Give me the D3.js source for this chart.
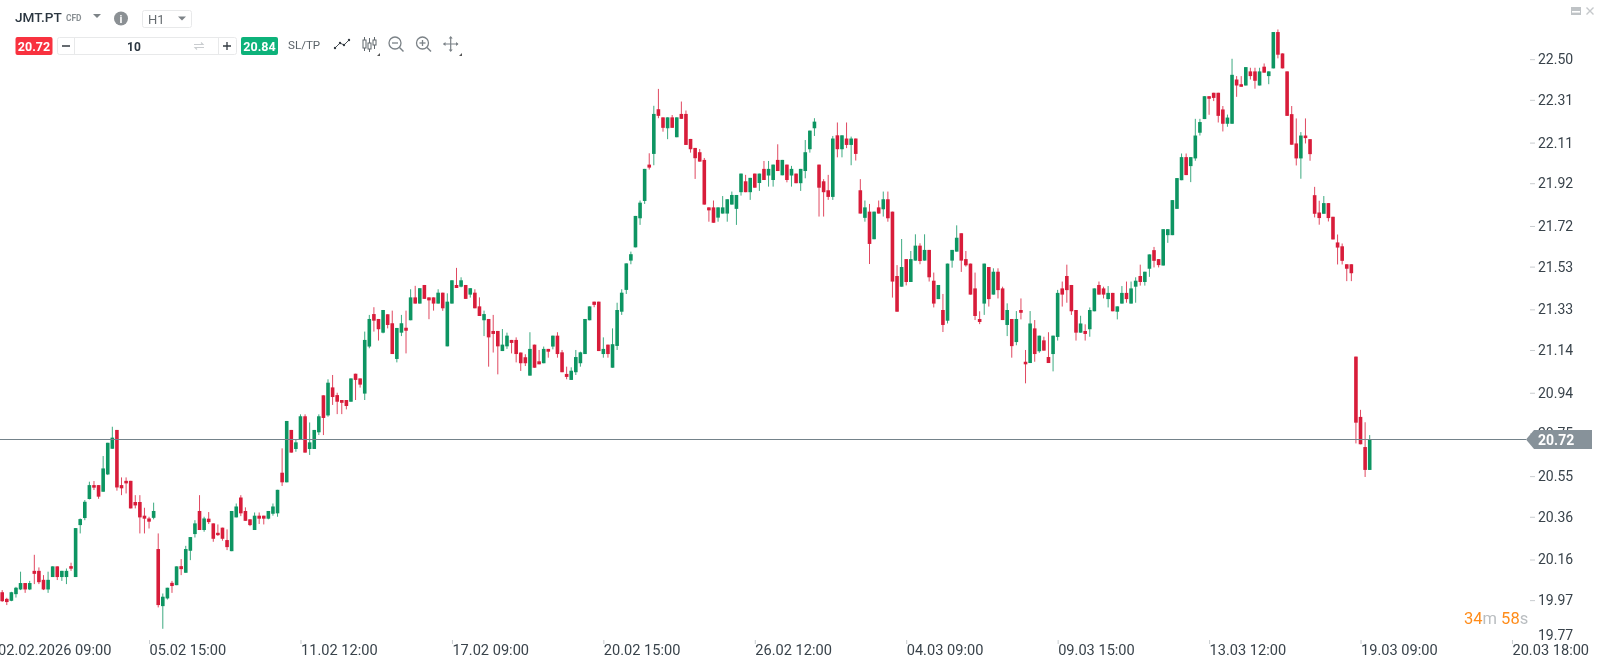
<!DOCTYPE html>
<html>
<head>
<meta charset="utf-8">
<title>JMT.PT H1</title>
<script src="https://cdn.jsdelivr.net/npm/d3@7"></script>
<style>
  html, body { margin: 0; padding: 0; background: #fff; overflow: hidden; }
  svg { display: block; font-family: Roboto, sans-serif; filter: blur(0.35px); }
  .tick text { font-family: Roboto, sans-serif; }
</style>
</head>
<body>
<svg id="chart" width="1600" height="663"></svg>
<script>
var opens = [
  20.007,19.976,19.967,19.998,20.020,20.050,20.020,20.107,20.107,20.065,
  20.020,20.078,20.128,20.078,20.078,20.129,20.078,20.321,20.354,20.443,
  20.508,20.508,20.477,20.558,20.678,20.766,20.508,20.528,20.528,20.429,
  20.429,20.365,20.352,20.355,20.209,19.942,19.978,20.051,20.040,20.129,
  20.098,20.201,20.279,20.387,20.298,20.351,20.329,20.285,20.309,20.251,
  20.199,20.357,20.450,20.387,20.348,20.298,20.365,20.365,20.351,20.374,
  20.376,20.566,20.521,20.766,20.677,20.722,20.830,20.677,20.677,20.755,
  20.928,20.834,20.965,20.929,20.906,20.906,20.898,21.029,21.007,20.936,
  21.156,21.308,21.285,21.221,21.307,21.265,21.098,21.221,21.244,21.279,
  21.386,21.357,21.444,21.386,21.386,21.357,21.408,21.157,21.357,21.444,
  21.436,21.444,21.399,21.408,21.344,21.279,21.285,21.229,21.229,21.135,
  21.157,21.187,21.187,21.128,21.106,21.020,21.165,21.087,21.078,21.145,
  21.156,21.207,21.129,21.028,21.000,21.036,21.078,21.121,21.279,21.366,
  21.366,21.121,21.165,21.057,21.159,21.319,21.421,21.558,21.620,21.756,
  21.837,22.007,22.057,22.266,22.228,22.177,22.228,22.135,22.244,22.244,
  22.127,22.085,22.065,22.029,21.807,21.807,21.759,21.778,21.778,21.820,
  21.800,21.878,21.929,21.878,21.965,21.921,21.987,21.956,21.935,22.029,
  21.957,22.007,21.956,21.965,21.920,21.977,22.079,22.177,22.007,21.929,
  21.887,21.856,22.144,22.079,22.129,22.099,22.129,21.887,21.758,21.787,
  21.658,21.807,21.798,21.845,21.787,21.486,21.436,21.565,21.458,21.558,
  21.628,21.558,21.608,21.464,21.378,21.327,21.277,21.558,21.600,21.686,
  21.565,21.544,21.428,21.285,21.357,21.528,21.399,21.506,21.428,21.257,
  21.285,21.177,21.327,21.085,21.079,21.241,21.134,21.185,21.107,21.121,
  21.201,21.428,21.486,21.444,21.327,21.221,21.229,21.237,21.321,21.444,
  21.428,21.378,21.407,21.319,21.357,21.407,21.357,21.436,21.486,21.458,
  21.520,21.607,21.565,21.535,21.677,21.677,21.800,21.934,22.042,22.000,
  22.036,22.156,22.220,22.327,22.343,22.343,22.265,22.198,22.198,22.405,
  22.383,22.377,22.443,22.443,22.377,22.465,22.421,22.457,22.627,22.527,
  22.443,22.243,22.106,22.036,22.143,22.126,21.864,21.783,21.777,21.827,
  21.763,21.643,21.625,21.541,21.541,21.109,20.827,20.686,20.579
];
var closes = [
  19.965,19.961,20.007,20.028,20.050,20.020,20.050,20.093,20.054,20.020,
  20.065,20.128,20.078,20.107,20.107,20.117,20.307,20.349,20.430,20.508,
  20.496,20.454,20.586,20.706,20.730,20.497,20.493,20.516,20.399,20.413,
  20.357,20.351,20.337,20.387,19.947,19.986,20.028,20.036,20.128,20.115,
  20.209,20.265,20.329,20.298,20.352,20.335,20.257,20.274,20.257,20.218,
  20.387,20.408,20.376,20.341,20.321,20.365,20.351,20.351,20.387,20.408,
  20.486,20.521,20.808,20.660,20.708,20.830,20.660,20.708,20.766,20.830,
  20.822,20.987,20.920,20.898,20.893,20.878,21.007,21.000,20.978,21.187,
  21.285,21.277,21.237,21.327,21.257,21.121,21.243,21.265,21.230,21.386,
  21.357,21.429,21.379,21.372,21.357,21.408,21.335,21.366,21.466,21.430,
  21.466,21.379,21.429,21.335,21.299,21.308,21.199,21.215,21.157,21.165,
  21.207,21.173,21.121,21.078,21.078,21.145,21.057,21.073,21.145,21.132,
  21.207,21.121,21.036,21.014,21.043,21.107,21.129,21.285,21.344,21.351,
  21.135,21.145,21.121,21.167,21.327,21.408,21.545,21.588,21.767,21.829,
  21.987,21.993,22.244,22.235,22.179,22.228,22.179,22.228,22.221,22.099,
  22.079,22.037,22.021,21.820,21.793,21.735,21.807,21.807,21.845,21.865,
  21.865,21.965,21.878,21.945,21.899,21.965,21.935,21.987,22.007,21.977,
  22.029,21.935,21.987,21.920,21.987,22.065,22.166,22.208,21.899,21.878,
  21.856,22.129,22.079,22.144,22.099,22.129,22.057,21.778,21.807,21.636,
  21.787,21.778,21.845,21.756,21.460,21.319,21.528,21.458,21.565,21.628,
  21.556,21.608,21.480,21.357,21.444,21.257,21.544,21.608,21.665,21.558,
  21.536,21.399,21.299,21.271,21.544,21.378,21.506,21.420,21.280,21.327,
  21.158,21.285,21.314,21.073,21.264,21.121,21.207,21.137,21.079,21.207,
  21.407,21.399,21.420,21.321,21.221,21.264,21.215,21.327,21.428,21.399,
  21.399,21.407,21.321,21.344,21.407,21.378,21.428,21.464,21.458,21.506,
  21.587,21.557,21.537,21.705,21.705,21.841,21.944,22.042,21.958,22.042,
  22.143,22.206,22.327,22.315,22.319,22.235,22.198,22.227,22.427,22.377,
  22.371,22.463,22.421,22.399,22.443,22.437,22.443,22.627,22.521,22.457,
  22.235,22.100,22.036,22.143,22.131,22.056,21.777,21.757,21.827,21.757,
  21.657,21.619,21.557,21.520,21.499,20.800,20.699,20.579,20.720
];
var highs = [
  20.017,19.981,20.009,20.032,20.103,20.050,20.060,20.182,20.123,20.087,
  20.103,20.128,20.128,20.107,20.118,20.145,20.307,20.352,20.438,20.524,
  20.527,20.508,20.644,20.706,20.781,20.766,20.544,20.544,20.528,20.461,
  20.461,20.402,20.360,20.426,20.282,20.001,20.028,20.060,20.128,20.162,
  20.224,20.265,20.344,20.461,20.360,20.382,20.329,20.324,20.309,20.301,
  20.387,20.422,20.461,20.404,20.348,20.380,20.380,20.365,20.387,20.422,
  20.486,20.680,20.808,20.766,20.719,20.839,20.839,20.801,20.766,20.839,
  20.928,21.003,21.023,20.940,20.906,20.906,21.007,21.029,21.007,21.226,
  21.304,21.340,21.285,21.327,21.307,21.324,21.243,21.304,21.324,21.424,
  21.440,21.429,21.444,21.386,21.386,21.424,21.408,21.405,21.466,21.524,
  21.480,21.444,21.429,21.424,21.386,21.324,21.285,21.304,21.229,21.238,
  21.221,21.187,21.199,21.128,21.120,21.223,21.165,21.140,21.156,21.145,
  21.207,21.223,21.140,21.062,21.059,21.140,21.132,21.285,21.344,21.366,
  21.366,21.199,21.165,21.241,21.361,21.424,21.545,21.600,21.767,21.839,
  21.987,22.060,22.282,22.361,22.228,22.228,22.239,22.228,22.302,22.260,
  22.127,22.085,22.080,22.038,21.807,21.839,21.807,21.860,21.845,21.881,
  21.865,21.965,21.959,21.945,21.965,21.965,22.024,22.024,22.007,22.102,
  22.029,22.007,22.001,21.965,21.987,22.122,22.166,22.224,22.007,21.939,
  21.959,22.141,22.204,22.144,22.204,22.138,22.129,21.939,21.839,21.823,
  21.787,21.839,21.881,21.881,21.787,21.537,21.659,21.565,21.603,21.681,
  21.639,21.681,21.608,21.502,21.444,21.402,21.544,21.608,21.723,21.686,
  21.603,21.544,21.502,21.321,21.544,21.528,21.522,21.522,21.436,21.358,
  21.285,21.322,21.381,21.140,21.322,21.280,21.207,21.202,21.223,21.207,
  21.421,21.460,21.539,21.444,21.327,21.300,21.260,21.339,21.428,21.460,
  21.436,21.439,21.407,21.344,21.439,21.460,21.460,21.480,21.539,21.506,
  21.587,21.622,21.565,21.705,21.705,21.841,21.944,22.059,22.059,22.042,
  22.221,22.221,22.327,22.327,22.343,22.343,22.281,22.241,22.502,22.421,
  22.421,22.463,22.460,22.460,22.460,22.480,22.443,22.627,22.639,22.527,
  22.443,22.281,22.223,22.159,22.223,22.126,21.903,21.838,21.860,21.827,
  21.763,21.680,21.638,21.541,21.541,21.109,20.860,20.802,20.742
];
var lows = [
  19.962,19.947,19.965,19.982,20.017,20.004,20.017,20.045,20.045,20.017,
  20.004,20.078,20.064,20.060,20.045,20.107,20.078,20.282,20.344,20.441,
  20.485,20.444,20.477,20.555,20.678,20.482,20.461,20.469,20.399,20.399,
  20.282,20.282,20.305,20.348,19.936,19.836,19.973,20.004,20.040,20.087,
  20.098,20.157,20.263,20.298,20.290,20.326,20.243,20.270,20.248,20.204,
  20.199,20.357,20.363,20.341,20.316,20.298,20.326,20.324,20.348,20.365,
  20.360,20.504,20.521,20.660,20.664,20.722,20.660,20.649,20.677,20.742,
  20.742,20.828,20.883,20.840,20.840,20.862,20.898,20.906,20.964,20.906,
  21.148,21.226,21.184,21.218,21.241,21.121,21.082,21.205,21.124,21.279,
  21.357,21.357,21.379,21.284,21.324,21.357,21.323,21.157,21.357,21.430,
  21.433,21.379,21.385,21.335,21.299,21.205,21.062,21.128,21.026,21.135,
  21.145,21.124,21.082,21.042,21.065,21.020,21.057,21.073,21.078,21.104,
  21.143,21.104,21.036,21.003,21.000,21.023,21.062,21.121,21.279,21.340,
  21.135,21.104,21.104,21.057,21.140,21.304,21.402,21.541,21.620,21.725,
  21.823,21.984,22.004,22.224,22.161,22.126,22.179,22.135,22.221,22.099,
  22.063,21.940,22.021,21.820,21.740,21.735,21.740,21.778,21.740,21.820,
  21.725,21.862,21.878,21.842,21.899,21.884,21.935,21.904,21.904,21.977,
  21.957,21.924,21.904,21.920,21.884,21.943,22.063,22.141,21.764,21.764,
  21.842,21.842,22.041,22.041,22.084,22.004,22.026,21.778,21.740,21.542,
  21.658,21.778,21.764,21.740,21.385,21.319,21.436,21.442,21.458,21.558,
  21.541,21.558,21.460,21.339,21.378,21.224,21.264,21.525,21.600,21.505,
  21.530,21.399,21.280,21.261,21.304,21.343,21.399,21.381,21.280,21.205,
  21.104,21.162,21.283,20.984,21.079,21.085,21.127,21.137,21.079,21.040,
  21.184,21.343,21.361,21.304,21.184,21.221,21.184,21.202,21.321,21.399,
  21.381,21.339,21.321,21.283,21.357,21.361,21.357,21.361,21.441,21.441,
  21.482,21.526,21.526,21.535,21.641,21.677,21.800,21.934,21.958,21.925,
  22.025,22.143,22.220,22.240,22.304,22.204,22.162,22.184,22.198,22.324,
  22.371,22.377,22.405,22.362,22.377,22.437,22.383,22.457,22.504,22.457,
  22.235,22.100,22.003,21.941,22.106,22.025,21.760,21.726,21.777,21.741,
  21.657,21.540,21.540,21.462,21.462,20.703,20.699,20.546,20.579
];

var priceTicks = [22.50, 22.31, 22.11, 21.92, 21.72, 21.53, 21.33, 21.14, 20.94, 20.75, 20.55, 20.36, 20.16, 19.97, 19.77];
var timeTickBars = [-1, 32, 65, 98, 131, 164, 197, 230, 263, 296, 329];
var timeTickLabels = ["02.02.2026 09:00", "05.02 15:00", "11.02 12:00", "17.02 09:00", "20.02 15:00", "26.02 12:00", "04.03 09:00", "09.03 15:00", "13.03 12:00", "19.03 09:00", "20.03 18:00"];
var lastPrice = 20.72;
var bidPrice = "20.72", askPrice = "20.84", lotSize = "10";

var RED = "#d81c3a", GREEN = "#0d9562", BODY_W = 3.6;

var svg = d3.select("#chart");

var x = d3.scaleLinear().domain([0, 298]).range([2.2, 1369.7]);
var y = d3.scaleLinear().domain([19.77, 22.50]).range([642.9, 59.2]);

var candles = svg.append("g").attr("class", "candles")
  .selectAll("g")
  .data(opens.map(function(o, i) { return i; }))
  .enter().append("g");

candles.append("line")
  .attr("x1", function(i) { return x(i); })
  .attr("x2", function(i) { return x(i); })
  .attr("y1", function(i) { return y(highs[i]); })
  .attr("y2", function(i) { return y(lows[i]); })
  .attr("stroke", function(i) { return closes[i] >= opens[i] ? GREEN : RED; })
  .attr("stroke-opacity", 0.8)
  .attr("stroke-width", 1);

candles.append("rect")
  .attr("x", function(i) { return x(i) - BODY_W / 2; })
  .attr("width", BODY_W)
  .attr("y", function(i) { return y(Math.max(opens[i], closes[i])); })
  .attr("height", function(i) { return Math.max(1, Math.abs(y(opens[i]) - y(closes[i]))); })
  .attr("fill", function(i) { return closes[i] >= opens[i] ? GREEN : RED; });

// price line sits on top of the candles
var priceLineY = Math.floor(y(lastPrice)) + 0.5;
svg.append("line")
  .attr("x1", 0).attr("x2", 1526)
  .attr("y1", priceLineY).attr("y2", priceLineY)
  .attr("stroke", "#74828a").attr("stroke-width", 1);

// price axis
var yAxis = d3.axisRight(y).tickValues(priceTicks).tickSize(5).tickPadding(3)
  .tickFormat(d3.format(".2f"));
var yG = svg.append("g").attr("transform", "translate(1530,0)").call(yAxis);
yG.select(".domain").remove();
yG.selectAll(".tick line").attr("stroke", "#c8cccf");
yG.selectAll(".tick text").attr("fill", "#39434b").attr("font-size", 14);
// the lowest label is pushed up off the bottom edge, without a tick mark
yG.selectAll(".tick").filter(function(d) { return d == 19.77; }).each(function() {
  d3.select(this).select("line").remove();
  d3.select(this).select("text").attr("dy", "-0.25em");
});

// time axis
var xAxis = d3.axisBottom(x).tickValues(timeTickBars).tickSize(4).tickPadding(3)
  .tickFormat(function(d, i) { return timeTickLabels[i]; });
var xG = svg.append("g").attr("transform", "translate(0,640)").call(xAxis);
xG.select(".domain").remove();
xG.selectAll(".tick line").attr("stroke", "#c8cccf");
xG.selectAll(".tick text").attr("fill", "#39434b").attr("font-size", 14.6)
  .attr("text-anchor", "start").attr("dy", "0.55em");

// last price tag
var tagY = priceLineY;
svg.append("path")
  .attr("d", "M1526," + tagY + "L1534," + (tagY - 9.5) + "H1592V" + (tagY + 9.5) + "H1534Z")
  .attr("fill", "#87929a");
svg.append("text").attr("x", 1538).attr("y", tagY + 5)
  .attr("fill", "#fff").attr("font-size", 14).attr("font-weight", 700)
  .text(d3.format(".2f")(lastPrice));

// countdown
var countdown = svg.append("text").attr("x", 1464).attr("y", 624).attr("font-size", 16.5);
[["34", "#ff8c1a"], ["m ", "#b9bdc0"], ["58", "#ff8c1a"], ["s", "#b9bdc0"]].forEach(function(p) {
  countdown.append("tspan").attr("fill", p[1]).attr("xml:space", "preserve").text(p[0]);
});

// toolbar
var bar = svg.append("g").attr("class", "toolbar");

function label(_x, _y, _text, _size, _fill, _weight, _anchor) {
  return bar.append("text").attr("x", _x).attr("y", _y).attr("font-size", _size)
    .attr("fill", _fill).attr("font-weight", _weight || 400)
    .attr("text-anchor", _anchor || "start").text(_text);
}

function stroke(_d, _color, _width) {
  return bar.append("path").attr("d", _d).attr("fill", "none")
    .attr("stroke", _color).attr("stroke-width", _width || 1.3);
}

label(15, 22, "JMT.PT", 13.6, "#2b3640", 500);
label(66, 20.5, "CFD", 8.4, "#8a9094", 700);
bar.append("path").attr("d", "M93,14H101L97,18Z").attr("fill", "#7d8387");
bar.append("circle").attr("cx", 121).attr("cy", 18.5).attr("r", 7).attr("fill", "#8b9094");
label(121, 23, "i", 11, "#fff", 700, "middle");

bar.append("rect").attr("x", 142.5).attr("y", 10.5).attr("width", 49).attr("height", 17).attr("rx", 2)
  .attr("fill", "#fff").attr("stroke", "#e8e9ea");
label(148, 24, "H1", 13, "#666c70");
bar.append("path").attr("d", "M178,16.5H186L182,20.5Z").attr("fill", "#7d8387");

bar.append("rect").attr("x", 15.5).attr("y", 37).attr("width", 37).attr("height", 18).attr("rx", 2).attr("fill", "#f8323f");
label(34, 50.5, bidPrice, 12.5, "#fff", 700, "middle");

bar.append("rect").attr("x", 57.5).attr("y", 37.5).attr("width", 179).attr("height", 17).attr("rx", 2)
  .attr("fill", "#fff").attr("stroke", "#e8e9ea");
stroke("M74.5,37.5V54.5M218.5,37.5V54.5", "#e8e9ea", 1);
stroke("M62,46H70M223,46H231M227,42V50", "#333b42", 1.3);
label(134, 50.5, lotSize, 12, "#2b3640", 700, "middle");
stroke("M194,44.5H203L201,42.5M204,47.5H195L197,49.5", "#c9cccf", 1.1);

bar.append("rect").attr("x", 241).attr("y", 37).attr("width", 37).attr("height", 18).attr("rx", 2).attr("fill", "#0db27a");
label(259.5, 50.5, askPrice, 12.5, "#fff", 700, "middle");

label(288, 49, "SL/TP", 11.6, "#5a6268");

// chart type, zoom and pan icons
stroke("M335,48L340,43L344,45L349,40", "#4a5157", 1);
bar.selectAll("circle.node").data([[335, 48], [340, 43], [344, 45], [349, 40]]).enter().append("circle")
  .attr("class", "node").attr("cx", function(d) { return d[0]; }).attr("cy", function(d) { return d[1]; })
  .attr("r", 1.2).attr("fill", "#333b42");
stroke("M364.5,37V51M369.5,38V52M374.5,37V49", "#5f666b", 1);
[[363, 40, 8], [368, 43, 6], [373, 40, 5]].forEach(function(c) {
  bar.append("rect").attr("x", c[0]).attr("y", c[1]).attr("width", 3).attr("height", c[2])
    .attr("fill", "#fff").attr("stroke", "#5f666b").attr("stroke-width", 1);
});
bar.append("path").attr("d", "M377,56H380V53Z").attr("fill", "#555");
[395, 422.5].forEach(function(cx) {
  bar.append("circle").attr("cx", cx).attr("cy", 43).attr("r", 6).attr("fill", "none")
    .attr("stroke", "#7b8287").attr("stroke-width", 1.3);
  stroke("M" + (cx + 4.5) + ",47.5L" + (cx + 8.5) + ",51.5", "#7b8287", 1.5);
  stroke("M" + (cx - 3) + ",43H" + (cx + 3), "#7b8287", 1.3);
});
stroke("M422.5,40V46", "#7b8287", 1.3);
stroke("M443.5,44H458M450.7,37V51", "#7b8287", 1.2);
bar.append("path").attr("d", "M450.7,36L448.7,38.5H452.7ZM450.7,52L448.7,49.5H452.7ZM443,44L445.5,42V46ZM458.5,44L456,42V46Z").attr("fill", "#7b8287");
bar.append("path").attr("d", "M459,56H462V53Z").attr("fill", "#555");

// window buttons, top right
bar.append("rect").attr("x", 1571).attr("y", 7).attr("width", 10).attr("height", 8).attr("fill", "#bfc3c6");
bar.append("rect").attr("x", 1572).attr("y", 11).attr("width", 8).attr("height", 1.6).attr("fill", "#fff");
stroke("M1586.5,7.5L1593.5,14.5M1593.5,7.5L1586.5,14.5", "#c5c8cb", 1.4);
</script>
</body>
</html>
